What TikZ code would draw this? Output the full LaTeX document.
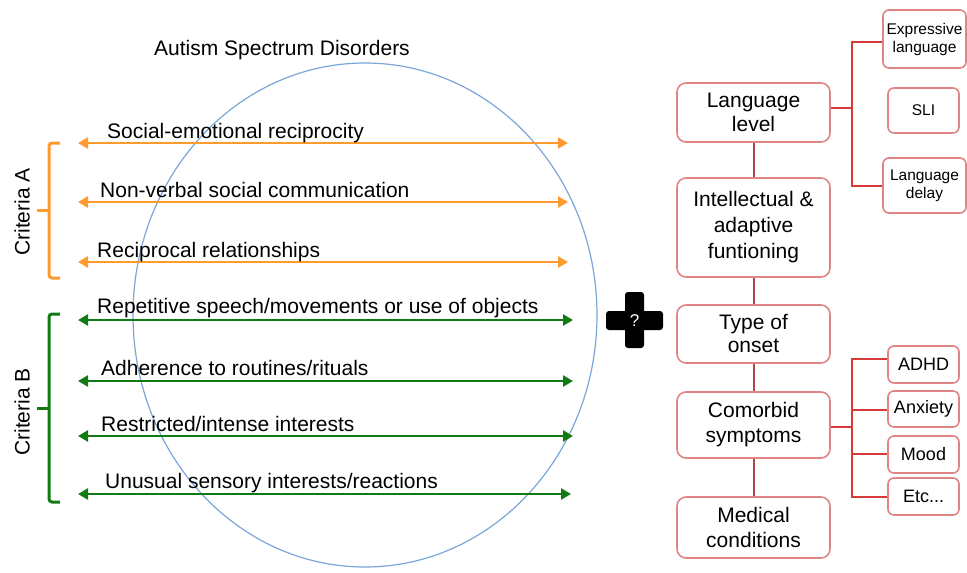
\documentclass[tikz,border=0pt]{standalone}
\usepackage{fontspec}
\setmainfont{Liberation Sans}
\usetikzlibrary{arrows.meta}

\definecolor{critA}{HTML}{FF9A2E}
\definecolor{critB}{HTML}{127A12}
\definecolor{asdcirc}{HTML}{7AA6D8}
\definecolor{boxline}{HTML}{E08585}
\definecolor{trunkline}{HTML}{B04848}
\definecolor{forkline}{HTML}{D83A3A}

\tikzset{
  lbl/.style={anchor=base west, inner sep=0pt, font=\fontsize{21}{25}\selectfont},
  arrA/.style={critA, line width=2.5pt, {Triangle[length=10pt,width=11pt]}-{Triangle[length=10pt,width=11pt]}},
  arrB/.style={critB, line width=2.5pt, {Triangle[length=10pt,width=11pt]}-{Triangle[length=10pt,width=11pt]}},
  bigbox/.style={draw=boxline, line width=1.6pt, rounded corners=9pt, fill=white,
    minimum width=153pt, align=center, inner sep=2pt, font=\fontsize{21}{25}\selectfont},
  subbox/.style={draw=boxline, line width=1.6pt, rounded corners=6pt, fill=white,
    align=center, inner sep=1pt},
  trunk/.style={trunkline, line width=2pt},
  fork/.style={forkline, line width=1.2pt}
}

\begin{document}
\begin{tikzpicture}[x=1pt, y=-1pt]
        \useasboundingbox (0,0) rectangle (967,573);

        % the spectrum
        \draw[asdcirc, line width=1.2pt] (365,315) ellipse [x radius=232, y radius=252];
        \node[font=\fontsize{21}{25}\selectfont] (title) at (282,50) {Autism Spectrum Disorders};

        % criteria A
        \coordinate (a1l) at (78,143); \coordinate (a1r) at (568,143);
        \coordinate (a2l) at (78,202); \coordinate (a2r) at (568,202);
        \coordinate (a3l) at (78,262); \coordinate (a3r) at (568,262);
        \draw[arrA] (a1l) -- (a1r);
        \draw[arrA] (a2l) -- (a2r);
        \draw[arrA] (a3l) -- (a3r);
        \node[lbl] (a1) at (107,138) {Social-emotional reciprocity};
        \node[lbl] (a2) at (100,197) {Non-verbal social communication};
        \node[lbl] (a3) at (97,257) {Reciprocal relationships};

        % criteria B
        \coordinate (b1l) at (78,320); \coordinate (b1r) at (573,320);
        \coordinate (b2l) at (78,381); \coordinate (b2r) at (573,381);
        \coordinate (b3l) at (78,436); \coordinate (b3r) at (573,436);
        \coordinate (b4l) at (78,494); \coordinate (b4r) at (571,494);
        \draw[arrB] (b1l) -- (b1r);
        \draw[arrB] (b2l) -- (b2r);
        \draw[arrB] (b3l) -- (b3r);
        \draw[arrB] (b4l) -- (b4r);
        \node[lbl] (b1) at (97,313) {Repetitive speech/movements or use of objects};
        \node[lbl] (b2) at (101,375) {Adherence to routines/rituals};
        \node[lbl] (b3) at (101,431) {Restricted/intense interests};
        \node[lbl] (b4) at (105,488) {Unusual sensory interests/reactions};

        % brackets
        \draw[critA, line width=3pt, rounded corners=3pt] (60,143) -- (49,143) -- (49,278) -- (60,278);
        \draw[critA, line width=3pt] (49,210) -- (37,210);
        \draw[critB, line width=3pt, rounded corners=3pt] (60,314) -- (49,314) -- (49,502) -- (60,502);
        \draw[critB, line width=3pt] (49,408) -- (37,408);
        \node[rotate=90, font=\fontsize{21}{25}\selectfont] (critA) at (22,212) {Criteria A};
        \node[rotate=90, font=\fontsize{21}{25}\selectfont] (critB) at (22,412) {Criteria B};

        % plus
        \fill[rounded corners=3pt] (625,292) rectangle (644,348);
        \fill[rounded corners=3pt] (606,311) rectangle (663,330);
        \node[text=white, font=\fontsize{17}{20}\selectfont] (qmark) at (634.5,321) {?};

        % other dimensions
        \node[bigbox, minimum height=59pt] (lang) at (753.5,112.5) {Language\\[-1pt] level};
        \node[bigbox, minimum height=99pt] (intel) at (753.5,227.5) {Intellectual \&\\[1pt] adaptive\\[1pt] funtioning};
        \node[bigbox, minimum height=58pt] (onset) at (753.5,334) {Type of\\[-2pt] onset};
        \node[bigbox, minimum height=66pt] (comorb) at (753.5,425) {Comorbid\\ symptoms};
        \node[bigbox, minimum height=61pt] (medic) at (753.5,527.5) {Medical\\ conditions};
        \draw[trunk] (lang) -- (intel);
        \draw[trunk] (intel) -- (onset);
        \draw[trunk] (onset) -- (comorb);
        \draw[trunk] (comorb) -- (medic);

        % language sub-boxes
        \node[subbox, minimum width=83pt, minimum height=58pt, font=\fontsize{15.5}{18}\selectfont] (expr) at (924.5,39) {Expressive\\ language};
        \node[subbox, minimum width=71pt, minimum height=45pt, font=\fontsize{15.5}{18}\selectfont] (sli) at (923.5,110.5) {SLI};
        \node[subbox, minimum width=83pt, minimum height=55pt, font=\fontsize{15.5}{18}\selectfont] (delay) at (924.5,185.5) {Language\\ delay};
        \coordinate (lfork) at (852,108);
        \draw[fork] (lang.east |- lfork) -- (lfork);
        \draw[fork] (expr.west |- 0,42) -| (lfork) |- (delay.west |- 0,186);

        % comorbidity sub-boxes
        \node[subbox, minimum width=71pt, minimum height=37pt, font=\fontsize{18}{21}\selectfont] (adhd) at (923.5,364.5) {ADHD};
        \node[subbox, minimum width=71pt, minimum height=36pt, font=\fontsize{18}{21}\selectfont] (anx) at (923.5,409) {Anxiety};
        \node[subbox, minimum width=71pt, minimum height=37pt, font=\fontsize{18}{21}\selectfont] (mood) at (923.5,454.5) {Mood};
        \node[subbox, minimum width=71pt, minimum height=37pt, font=\fontsize{18}{21}\selectfont] (etc) at (923.5,496.5) {Etc...};
        \coordinate (cfork) at (852,427);
        \draw[fork] (comorb.east |- cfork) -- (cfork);
        \draw[fork] (adhd.west |- 0,359) -| (cfork) |- (etc.west |- 0,497);
        \draw[fork] (anx.west |- 0,410) -- (cfork |- 0,410);
        \draw[fork] (mood.west |- 0,454) -- (cfork |- 0,454);
    \end{tikzpicture}
\end{document}
